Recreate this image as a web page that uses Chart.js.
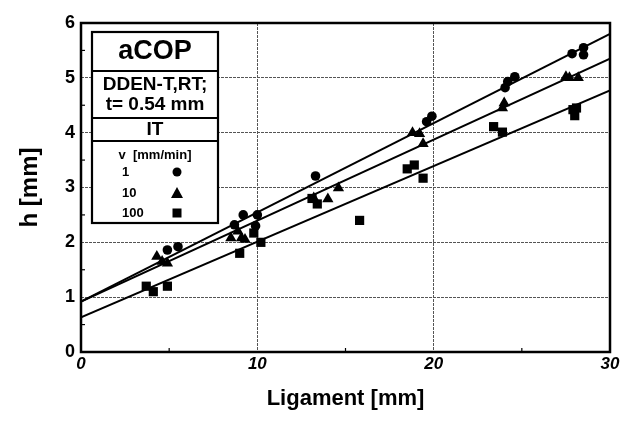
<!DOCTYPE html>
<html>
<head>
<meta charset="utf-8">
<script src="https://cdn.jsdelivr.net/npm/chart.js@4.4.0/dist/chart.umd.min.js"></script>
<style>
  html, body { margin: 0; padding: 0; background: #fff; }
  #wrap { width: 622px; height: 424px; }
</style>
</head>
<body>
<div id="wrap"><canvas id="grafico" width="622" height="424"></canvas></div>
<script>
// Valores
const v1X = [4.9, 5.5, 8.7, 9.2, 9.9, 10.0, 13.3, 19.6, 19.9, 24.05, 24.2, 24.6, 27.85, 28.5, 28.5];
const v1Y = [1.86, 1.92, 2.32, 2.5, 2.3, 2.5, 3.21, 4.2, 4.3, 4.82, 4.93, 5.02, 5.44, 5.55, 5.42];

const v10X = [4.3, 4.6, 4.9, 8.5, 8.9, 9.1, 9.3, 13.2, 14.0, 14.6, 18.8, 19.2, 19.4, 23.9, 24.0, 27.5, 27.7, 28.2];
const v10Y = [1.74, 1.65, 1.62, 2.08, 2.2, 2.08, 2.05, 2.81, 2.79, 2.99, 4.0, 3.98, 3.8, 4.45, 4.54, 5.02, 5.0, 5.0];

const v100X = [3.7, 4.1, 4.9, 9.0, 9.8, 10.2, 13.1, 13.4, 15.8, 18.5, 18.9, 19.4, 23.4, 23.9, 27.9, 28.1, 28.0];
const v100Y = [1.2, 1.1, 1.2, 1.8, 2.17, 2.0, 2.8, 2.7, 2.4, 3.34, 3.41, 3.17, 4.11, 4.01, 4.42, 4.45, 4.31];

// retas de ajuste (extremos em x = 0 e x = 30)
const ajusteX = [0, 30];
const ajusteV1 = [0.92, 5.8];
const ajusteV10 = [0.92, 5.35];
const ajusteV100 = [0.63, 4.77];

const xTicks = [0, 10, 20, 30];
const yTicks = [0, 1, 2, 3, 4, 5, 6];
const xMenores = [5, 15, 25];
const yMenores = [0.5, 1.5, 2.5, 3.5, 4.5, 5.5];

const legendaTitulo = "aCOP";
const legendaLinhas = ["DDEN-T,RT;", "t= 0.54 mm"];
const legendaModo = "IT";
const legendaV = "v  [mm/min]";
const legendaSeries = ["1", "10", "100"];

function pontos(xs, ys) {
  return xs.map((x, i) => ({ x: x, y: ys[i] }));
}

const FONTE = "'Liberation Sans', Arial, Helvetica, sans-serif";

const molduraPlugin = {
  id: "moldura",
  afterDatasetsDraw(chart) {
    const { ctx, chartArea: a } = chart;
    const xs = chart.scales.x, ys = chart.scales.y;
    ctx.save();
    ctx.strokeStyle = "#000";

    // tracinhos menores para dentro
    ctx.lineWidth = 1.2;
    xMenores.forEach(v => {
      const px = xs.getPixelForValue(v);
      ctx.beginPath(); ctx.moveTo(px, a.bottom); ctx.lineTo(px, a.bottom - 4); ctx.stroke();
    });
    yMenores.forEach(v => {
      const py = ys.getPixelForValue(v);
      ctx.beginPath(); ctx.moveTo(a.left, py); ctx.lineTo(a.left + 4, py); ctx.stroke();
    });

    ctx.lineWidth = 2.5;
    ctx.strokeRect(a.left, a.top, a.right - a.left, a.bottom - a.top);

    // caixa da legenda
    const L = 92, R = 218, T = 32, B = 223;
    ctx.fillStyle = "#fff";
    ctx.fillRect(L, T, R - L, B - T);
    ctx.lineWidth = 2.2;
    ctx.strokeRect(L, T, R - L, B - T);
    ctx.lineWidth = 2;
    [71, 118, 141].forEach(y => {
      ctx.beginPath(); ctx.moveTo(L, y); ctx.lineTo(R, y); ctx.stroke();
    });
    const cx = (L + R) / 2;
    ctx.fillStyle = "#000";
    ctx.textAlign = "center";
    ctx.textBaseline = "middle";
    ctx.font = "bold 27px " + FONTE;
    ctx.fillText(legendaTitulo, cx, 52);
    ctx.font = "bold 19px " + FONTE;
    ctx.fillText(legendaLinhas[0], cx, 85, R - L - 4);
    ctx.fillText(legendaLinhas[1], cx, 105);
    ctx.fillText(legendaModo, cx, 130);
    ctx.font = "bold 13px " + FONTE;
    ctx.fillText(legendaV, cx, 155);
    const yy = [172, 193, 213];
    ctx.textAlign = "left";
    legendaSeries.forEach((s, i) => ctx.fillText(s, 122, yy[i]));
    // marcadores
    const mx = 177;
    ctx.beginPath(); ctx.arc(mx, yy[0], 4.5, 0, Math.PI * 2); ctx.fill();
    ctx.beginPath();
    ctx.moveTo(mx, yy[1] - 6); ctx.lineTo(mx + 6, yy[1] + 5); ctx.lineTo(mx - 6, yy[1] + 5);
    ctx.closePath(); ctx.fill();
    ctx.fillRect(mx - 4.5, yy[2] - 4.5, 9, 9);
    ctx.restore();
  }
};

const estiloPonto = (estilo, raio) => ({
  type: "scatter",
  pointStyle: estilo,
  pointRadius: raio,
  pointBackgroundColor: "#000",
  pointBorderColor: "#000",
  pointBorderWidth: 0,
  showLine: false
});

const estiloReta = {
  type: "line",
  borderColor: "#000",
  borderWidth: 2,
  pointRadius: 0,
  fill: false,
  tension: 0
};

new Chart(document.getElementById("grafico"), {
  type: "scatter",
  data: {
    datasets: [
      Object.assign({ label: "1", data: pontos(v1X, v1Y) }, estiloPonto("circle", 4.8)),
      Object.assign({ label: "10", data: pontos(v10X, v10Y) }, estiloPonto("triangle", 6.5)),
      Object.assign({ label: "100", data: pontos(v100X, v100Y) }, estiloPonto("rect", 6.5)),
      Object.assign({ label: "ajuste 1", data: pontos(ajusteX, ajusteV1) }, estiloReta),
      Object.assign({ label: "ajuste 10", data: pontos(ajusteX, ajusteV10) }, estiloReta),
      Object.assign({ label: "ajuste 100", data: pontos(ajusteX, ajusteV100) }, estiloReta)
    ]
  },
  options: {
    responsive: false,
    animation: false,
    layout: { padding: { left: 0, top: 23, right: 12, bottom: 0 } },
    plugins: {
      legend: { display: false },
      tooltip: { enabled: false }
    },
    scales: {
      x: {
        type: "linear",
        min: 0,
        max: 30,
        afterBuildTicks(axis) { axis.ticks = xTicks.map(v => ({ value: v })); },
        afterFit(axis) { axis.height = 72; },
        ticks: {
          color: "#000",
          font: { family: FONTE, size: 17, weight: "bold", style: "italic" },
          padding: 2
        },
        grid: { color: "#555", lineWidth: 1, drawTicks: false },
        border: { display: false, dash: [3, 1] },
        title: {
          display: true,
          text: "Ligament [mm]",
          color: "#000",
          font: { family: FONTE, size: 22, weight: "bold" },
          padding: { top: 2, bottom: 12 }
        }
      },
      y: {
        type: "linear",
        min: 0,
        max: 6,
        afterBuildTicks(axis) { axis.ticks = yTicks.map(v => ({ value: v })); },
        afterFit(axis) { axis.width = 81; },
        ticks: {
          color: "#000",
          font: { family: FONTE, size: 18, weight: "bold" },
          padding: 6
        },
        grid: { color: "#555", lineWidth: 1, drawTicks: false },
        border: { display: false, dash: [3, 1] },
        title: {
          display: true,
          text: "h [mm]",
          color: "#000",
          font: { family: FONTE, size: 24, weight: "bold" },
          padding: { top: 16, bottom: 0 }
        }
      }
    }
  },
  plugins: [molduraPlugin]
});
</script>
</body>
</html>
